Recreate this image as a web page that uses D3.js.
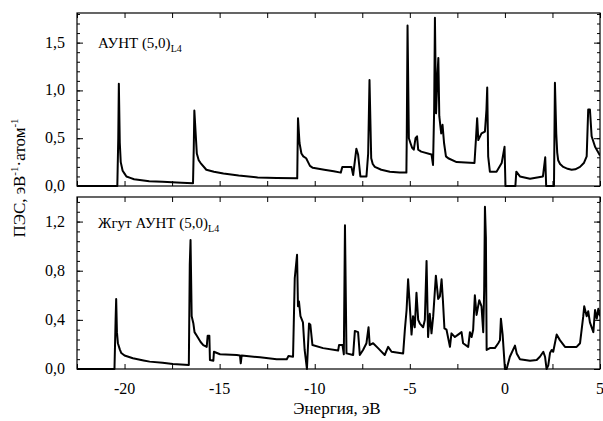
<!DOCTYPE html>
<html>
<head>
<meta charset="utf-8">
<script src="https://cdn.jsdelivr.net/npm/d3@7"></script>
<style>
	body { margin: 0; background: #fff; }
	svg { display: block; }
	svg text { font-family: "Liberation Serif", "Times New Roman", "DejaVu Serif", serif; }
</style>
</head>
<body>
<div id="chart"></div>
<script>

// Energy axis, eV
const xDomain = [-22.5, 5];
const xLabelTicks = [-20, -15, -10, -5, 0, 5];
const xAllTicks = [-22.5, -20, -17.5, -15, -12.5, -10, -7.5, -5, -2.5, 0, 2.5, 5];

// Top panel: single nanotube
const topTicks = [0, 0.5, 1.0, 1.5];
const topLabels = ["0,0", "0,5", "1,0", "1,5"];
const topEnergy = [-22.5, -20.38, -20.33, -20.3, -20.25, -20.2, -20.1, -20.0, -19.9, -19.7, -19.5, -19.0, -18.7, -18.0, -17.5, -17.0, -16.4, -16.36, -16.33, -16.2, -16.1, -16.0, -15.7, -15.3, -14.8, -14.0, -13.0, -12.0, -10.92, -10.88, -10.8, -10.7, -10.6, -10.45, -10.35, -10.25, -10.1, -9.5, -9.0, -8.63, -8.55, -8.07, -7.98, -7.81, -7.72, -7.6, -7.28, -7.19, -7.12, -7.03, -6.95, -6.84, -6.5, -6.05, -5.53, -5.18, -5.16, -5.12, -5.05, -4.95, -4.88, -4.79, -4.7, -4.62, -4.56, -4.4, -3.86, -3.78, -3.72, -3.68, -3.62, -3.55, -3.5, -3.45, -3.35, -3.28, -3.2, -3.1, -2.98, -2.54, -1.6, -1.52, -1.46, -1.4, -1.23, -1.05, -0.97, -0.93, -0.88, -0.79, -0.44, -0.17, -0.02, 0.03, 0.55, 0.6, 0.79, 1.32, 2.0, 2.12, 2.17, 2.58, 2.63, 2.7, 2.75, 2.8, 2.9, 3.07, 3.3, 3.51, 3.7, 3.95, 4.15, 4.3, 4.38, 4.47, 4.56, 4.74, 5.0];
const topDos = [0, 0, 0.5, 1.07, 0.45, 0.25, 0.16, 0.13, 0.1, 0.085, 0.07, 0.057, 0.05, 0.045, 0.04, 0.035, 0.03, 0.4, 0.79, 0.34, 0.27, 0.24, 0.17, 0.15, 0.13, 0.11, 0.09, 0.085, 0.08, 0.71, 0.45, 0.34, 0.31, 0.29, 0.25, 0.21, 0.19, 0.17, 0.155, 0.14, 0.2, 0.2, 0.115, 0.39, 0.33, 0.1, 0.1, 0.34, 1.11, 0.29, 0.23, 0.2, 0.17, 0.15, 0.14, 0.14, 0.53, 1.68, 0.5, 0.44, 0.4, 0.38, 0.5, 0.52, 0.38, 0.36, 0.33, 0.22, 0.8, 1.76, 0.76, 1.14, 1.34, 0.73, 0.55, 0.64, 0.45, 0.31, 0.29, 0.25, 0.24, 0.5, 0.71, 0.48, 0.55, 0.57, 0.8, 1.03, 0.31, 0.15, 0.15, 0.24, 0.41, 0, 0, 0.15, 0.1, 0.075, 0.1, 0.3, 0, 0, 1.08, 0.55, 0.35, 0.27, 0.23, 0.2, 0.18, 0.17, 0.175, 0.2, 0.24, 0.31, 0.8, 0.8, 0.52, 0.41, 0.32];

// Bottom panel: nanotube bundle
const bottomTicks = [0, 0.4, 0.8, 1.2];
const bottomLabels = ["0,0", "0,4", "0,8", "1,2"];
const bundleEnergy = [-22.5, -20.53, -20.47, -20.44, -20.4, -20.35, -20.25, -20.17, -20.0, -19.56, -19.0, -18.68, -18.0, -17.46, -16.62, -16.57, -16.53, -16.47, -16.38, -16.32, -16.2, -16.12, -16.0, -15.86, -15.68, -15.63, -15.54, -15.51, -15.33, -15.3, -14.98, -14.1, -13.93, -13.89, -13.84, -12.88, -12.0, -11.47, -11.38, -11.14, -11.05, -10.93, -10.88, -10.83, -10.75, -10.62, -10.53, -10.41, -10.3, -10.23, -10.12, -9.56, -8.77, -8.72, -8.54, -8.47, -8.41, -8.33, -7.98, -7.89, -7.72, -7.63, -7.46, -7.28, -7.17, -7.11, -6.93, -6.67, -6.32, -6.14, -5.96, -5.35, -5.26, -5.17, -5.09, -5.0, -4.91, -4.83, -4.74, -4.65, -4.56, -4.47, -4.3, -4.21, -4.12, -4.04, -3.95, -3.86, -3.77, -3.63, -3.51, -3.42, -3.33, -3.26, -3.18, -3.07, -2.89, -2.81, -2.63, -2.46, -2.28, -2.2, -1.93, -1.84, -1.75, -1.67, -1.58, -1.49, -1.35, -1.23, -1.14, -1.09, -1.05, -1.0, -0.96, -0.79, -0.53, -0.35, -0.26, -0.21, -0.12, 0.0, 0.09, 0.26, 0.53, 0.62, 0.79, 1.32, 1.67, 1.84, 2.02, 2.11, 2.19, 2.28, 2.37, 2.46, 2.54, 2.72, 2.89, 3.16, 3.77, 3.95, 4.12, 4.17, 4.3, 4.38, 4.47, 4.65, 4.74, 4.83, 4.91, 5.0];
const bundleDos = [0, 0, 0.4, 0.57, 0.3, 0.21, 0.16, 0.13, 0.11, 0.087, 0.07, 0.06, 0.05, 0.04, 0.033, 0.85, 1.05, 0.43, 0.37, 0.3, 0.27, 0.25, 0.22, 0.195, 0.18, 0.27, 0.27, 0.073, 0.068, 0.14, 0.12, 0.114, 0.11, 0.046, 0.11, 0.095, 0.08, 0.08, 0.105, 0.1, 0.74, 0.93, 0.51, 0.55, 0.43, 0.38, 0.155, 0.0, 0.37, 0.36, 0.195, 0.17, 0.15, 0.195, 0.195, 0.12, 1.17, 0.127, 0.114, 0.31, 0.3, 0.114, 0.155, 0.21, 0.34, 0.195, 0.21, 0.17, 0.114, 0.18, 0.14, 0.127, 0.32, 0.48, 0.73, 0.51, 0.28, 0.43, 0.34, 0.62, 0.4, 0.37, 0.34, 0.4, 0.88, 0.26, 0.45, 0.29, 0.43, 0.76, 0.57, 0.59, 0.73, 0.56, 0.33, 0.32, 0.18, 0.29, 0.26, 0.28, 0.3, 0.21, 0.18, 0.3, 0.26, 0.32, 0.6, 0.44, 0.56, 0.51, 0.3, 0.64, 1.32, 1.07, 0.155, 0.17, 0.17, 0.21, 0.235, 0.41, 0.28, 0.0, 0.0, 0.1, 0.19, 0.127, 0.079, 0.067, 0.073, 0.1, 0.14, 0.1, 0.0, 0.03, 0.13, 0.155, 0.14, 0.28, 0.235, 0.18, 0.18, 0.21, 0.43, 0.51, 0.43, 0.47, 0.38, 0.3, 0.48, 0.41, 0.49, 0.43];

const W = 603, H = 421;
const left = 77, right = 600;
const serif = "'Liberation Serif', 'Times New Roman', serif";

const svg = d3.select("#chart").append("svg")
	.attr("width", W)
	.attr("height", H)
	.attr("font-family", serif);

const x = d3.scaleLinear().domain(xDomain).range([left, right]);

// draws one framed panel with its curve
function drawPanel(cfg) {
	const y = d3.scaleLinear().domain([0, cfg.yMax]).range([cfg.bottom, cfg.top]);
	const g = svg.append("g");

	// clip horizontally to the frame
	const clipId = "clip-" + cfg.name;
	svg.append("clipPath").attr("id", clipId)
		.append("rect")
		.attr("x", left).attr("y", cfg.top - 4)
		.attr("width", right - left).attr("height", cfg.bottom - cfg.top + 8);

	const pts = cfg.energy.map((e, i) => [e, cfg.values[i]]);
	const line = d3.line().x(d => x(d[0])).y(d => y(d[1]));

	g.append("path")
		.datum(pts)
		.attr("clip-path", `url(#${clipId})`)
		.attr("fill", "none")
		.attr("stroke", "#000")
		.attr("stroke-width", 2)
		.attr("stroke-linejoin", "round")
		.attr("d", line);

	// inward ticks on all four sides
	const minor = d3.range(0, cfg.yMax + 1e-9, cfg.minorStep);
	g.append("g").attr("transform", `translate(${left},0)`)
		.call(d3.axisRight(y).tickValues(minor).tickSize(3).tickFormat(""));
	g.append("g").attr("transform", `translate(${right},0)`)
		.call(d3.axisLeft(y).tickValues(minor).tickSize(3).tickFormat(""));
	g.append("g").attr("transform", `translate(${left},0)`)
		.call(d3.axisRight(y).tickValues(cfg.ticks).tickSize(6).tickFormat(""));
	g.append("g").attr("transform", `translate(${right},0)`)
		.call(d3.axisLeft(y).tickValues(cfg.ticks).tickSize(6).tickFormat(""));
	g.append("g").attr("transform", `translate(0,${cfg.top})`)
		.call(d3.axisBottom(x).tickValues(xAllTicks).tickSize(5).tickFormat(""));
	g.append("g").attr("transform", `translate(0,${cfg.bottom})`)
		.call(d3.axisTop(x).tickValues(xAllTicks).tickSize(5).tickFormat(""));
	g.selectAll(".domain").remove();
	g.selectAll(".tick line").attr("stroke", "#000").attr("stroke-width", 1);

	// frame
	g.append("rect")
		.attr("x", left).attr("y", cfg.top)
		.attr("width", right - left).attr("height", cfg.bottom - cfg.top)
		.attr("fill", "none").attr("stroke", "#000").attr("stroke-width", 1.2);

	// y tick labels
	g.selectAll(".ylab")
		.data(cfg.ticks)
		.join("text")
		.attr("class", "ylab")
		.attr("x", left - 12)
		.attr("y", d => y(d) + 5)
		.attr("text-anchor", "end")
		.attr("font-family", serif)
		.style("font-size", "16px")
		.text((d, i) => cfg.labels[i]);

	// panel label with subscript
	const t = g.append("text")
		.attr("x", 98)
		.attr("y", cfg.labelY)
		.attr("font-family", serif)
		.style("font-size", "15px")
		.text(cfg.title);
	t.append("tspan").attr("dy", 4).style("font-size", "10px").text("L4");

	return y;
}

drawPanel({
	name: "top", top: 13, bottom: 186, yMax: 1.81, minorStep: 0.1,
	ticks: topTicks, labels: topLabels,
	energy: topEnergy, values: topDos,
	title: "АУНТ (5,0)", labelY: 48
});

drawPanel({
	name: "bottom", top: 197, bottom: 369, yMax: 1.4, minorStep: 0.08,
	ticks: bottomTicks, labels: bottomLabels,
	energy: bundleEnergy, values: bundleDos,
	title: "Жгут АУНТ (5,0)", labelY: 228
});

// x tick labels under the lower panel
svg.selectAll(".xlab")
	.data(xLabelTicks)
	.join("text")
	.attr("class", "xlab")
	.attr("x", d => x(d))
	.attr("y", 394)
	.attr("text-anchor", "middle")
	.attr("font-family", serif)
	.style("font-size", "16px")
	.text(d => d);

// axis titles
svg.append("text")
	.attr("x", 337)
	.attr("y", 414)
	.attr("text-anchor", "middle")
	.attr("font-family", serif)
	.style("font-size", "17px")
	.text("Энергия, эВ");

const yt = svg.append("text")
	.attr("transform", "translate(25,178) rotate(-90)")
	.attr("text-anchor", "middle")
	.attr("font-family", serif)
	.style("font-size", "17px");
yt.append("tspan").text("ПЭС, эВ");
yt.append("tspan").attr("dy", -7).style("font-size", "11px").text("-1");
yt.append("tspan").attr("dy", 7).text("·атом");
yt.append("tspan").attr("dy", -7).style("font-size", "11px").text("-1");

</script>
</body>
</html>
